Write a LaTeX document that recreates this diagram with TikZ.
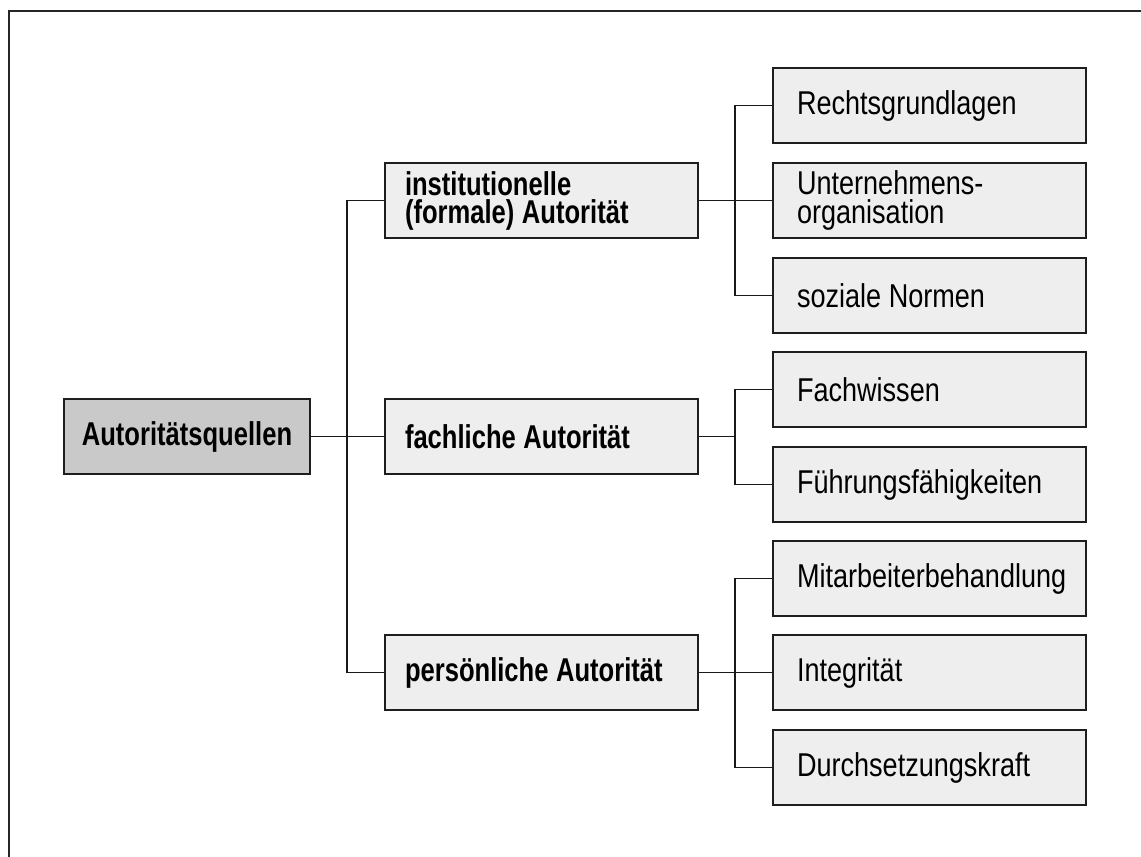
\documentclass[tikz,border=0pt]{standalone}
\usepackage{fontspec}
\setmainfont{Liberation Sans}[
  UprightFeatures={FakeStretch=0.82},
  BoldFeatures={FakeStretch=0.775}]
\hyphenpenalty=10000
\exhyphenpenalty=10000
\definecolor{rootfill}{HTML}{C9C9C9}
\definecolor{boxfill}{HTML}{EEEEEE}
\definecolor{boxline}{HTML}{1E1E1E}
% condensed word spacing
\newcommand{\tightspace}{\spaceskip=0.23em plus 0.05em minus 0.02em\relax}
\begin{document}
\begin{tikzpicture}[x=0.5pt,y=-0.5pt,
  box/.style={draw=boxline, line width=0.8pt, fill=boxfill, rectangle,
    minimum height=37.5pt, inner ysep=0pt,
    execute at begin node=\tightspace},
  rootbox/.style={box, fill=rootfill, minimum width=123pt,
    font=\fontsize{16.5}{14}\selectfont\bfseries, align=center},
  midbox/.style={box, inner xsep=10pt, text width=136.5pt, align=left,
    font=\fontsize{16.5}{14}\selectfont\bfseries},
  leafbox/.style={box, inner xsep=12pt, text width=132.5pt, align=left,
    font=\fontsize{16.5}{14.5}\selectfont},
  link/.style={draw=black!90, line width=0.65pt}]
\useasboundingbox (0,0) rectangle (1141,857);

% outer frame, open to the right and bottom
\draw[line width=1pt, black!85] (9,857) -- (9,11) -- (1141,11);

% root
\node[rootbox] (root) at (187,436.5) {Autoritätsquellen};

% middle level
\node[midbox] (inst) at (541.5,200.5) {institutionelle\\(formale) Autorität};
\node[midbox] (fach) at (541.5,436.5) {fachliche Autorität};
\node[midbox] (pers) at (541.5,672.5) {persönliche Autorität};

% leaves
\node[leafbox] (recht) at (929.5,105.5) {Rechtsgrundlagen};
\node[leafbox] (unter) at (929.5,200.5) {Unternehmens-\\organisation};
\node[leafbox] (sozial) at (929.5,295.5) {soziale Normen};
\node[leafbox] (wissen) at (929.5,389.5) {Fachwissen};
\node[leafbox] (fuehr) at (929.5,484.5) {Führungsfähigkeiten};
\node[leafbox] (mitarb) at (929.5,578.5) {Mitarbeiterbehandlung};
\node[leafbox] (integ) at (929.5,672.5) {Integrität};
\node[leafbox] (durch) at (929.5,767.5) {Durchsetzungskraft};

% junction columns
\coordinate (trunk) at (347,0);
\coordinate (branch) at (735,0);

% root to middle level
\draw[link] (root.east) -- (fach.west);
\draw[link] (inst.west) -| (trunk |- pers.west) -- (pers.west);

% middle level to leaves
\draw[link] (recht.west) -| (branch |- sozial.west) -- (sozial.west);
\draw[link] (inst.east) -- (unter.west);

\draw[link] (wissen.west) -| (branch |- fuehr.west) -- (fuehr.west);
\draw[link] (fach.east) -- (branch |- fach.east);

\draw[link] (mitarb.west) -| (branch |- durch.west) -- (durch.west);
\draw[link] (pers.east) -- (integ.west);
\end{tikzpicture}
\end{document}
